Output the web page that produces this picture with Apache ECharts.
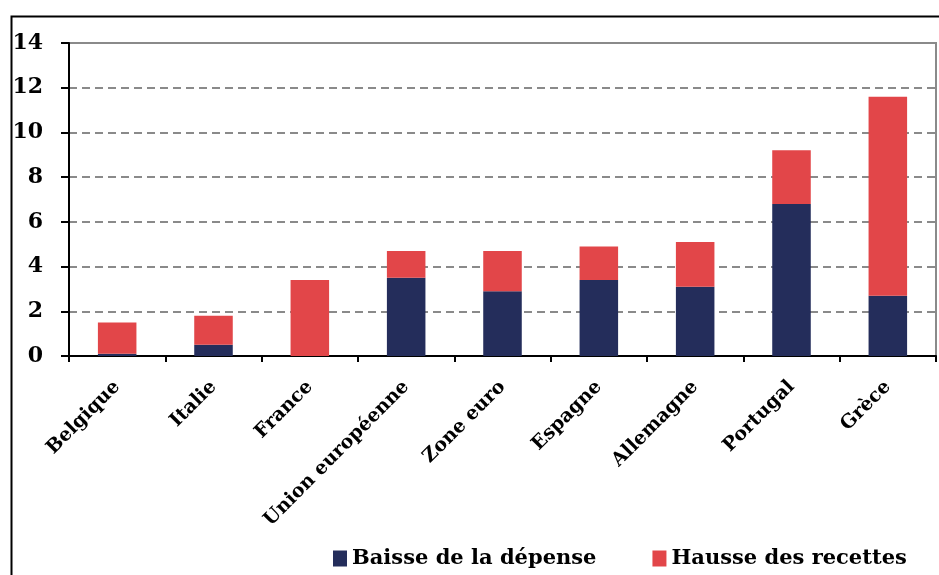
<!DOCTYPE html>
<html><head><meta charset="utf-8">
<script src="https://cdn.jsdelivr.net/npm/echarts@6/dist/echarts.min.js"></script>
<style>html,body{margin:0;padding:0;background:#fff}#c{width:939px;height:575px}</style>
</head><body><div id="c"></div>
<script>
const categories = ['Belgique','Italie','France','Union européenne','Zone euro','Espagne','Allemagne','Portugal','Grèce'];
const baisseDepense = [0.1, 0.5, 0.0, 3.5, 2.9, 3.4, 3.1, 6.8, 2.7];
const hausseRecettes = [1.4, 1.3, 3.4, 1.2, 1.8, 1.5, 2.0, 2.4, 8.9];
const seriesNames = ['Baisse de la dépense','Hausse des recettes'];
const yTicks = {min: 0, max: 14, interval: 2};

const FONT = '"DejaVu Serif", serif';
const chart = echarts.init(document.getElementById('c'), null, {renderer: 'canvas'});
chart.setOption({
  animation: false,
  backgroundColor: '#fff',
  graphic: [{type: 'rect', left: 9, top: 14, shape: {width: 960, height: 600}, style: {fill: 'none', stroke: '#000', lineWidth: 2}, z: 100}],
  grid: {left: 69, right: 3, top: 43, bottom: 219, show: true, borderColor: '#8a8a8a', borderWidth: 2},
  legend: {
    bottom: 1, left: 328, itemGap: 56, itemWidth: 14, itemHeight: 16, icon: 'rect',
    textStyle: {fontFamily: FONT, fontWeight: 'bold', fontSize: 21, color: '#000'},
    data: seriesNames
  },
  xAxis: {
    type: 'category', data: categories,
    axisLine: {lineStyle: {color: '#000', width: 2}},
    axisTick: {show: true, length: 6, lineStyle: {color: '#000', width: 2}},
    axisLabel: {rotate: 45, margin: 28, interval: 0, fontFamily: FONT, fontWeight: 'bold', fontSize: 19, color: '#000'}
  },
  yAxis: {
    type: 'value', min: yTicks.min, max: yTicks.max, interval: yTicks.interval,
    axisLine: {show: true, lineStyle: {color: '#000', width: 2}},
    axisTick: {show: true, length: 8, lineStyle: {color: '#000', width: 2}},
    axisLabel: {margin: 26, fontFamily: FONT, fontWeight: 'bold', fontSize: 22, color: '#000'},
    splitLine: {show: true, lineStyle: {color: '#8a8a8a', width: 2, type: [8, 5]}}
  },
  series: [
    {name: seriesNames[0], type: 'bar', stack: 's', data: baisseDepense, barWidth: '40%', itemStyle: {color: '#242d5b'}},
    {name: seriesNames[1], type: 'bar', stack: 's', data: hausseRecettes, barWidth: '40%', itemStyle: {color: '#e24649'}}
  ]
});
</script></body></html>
